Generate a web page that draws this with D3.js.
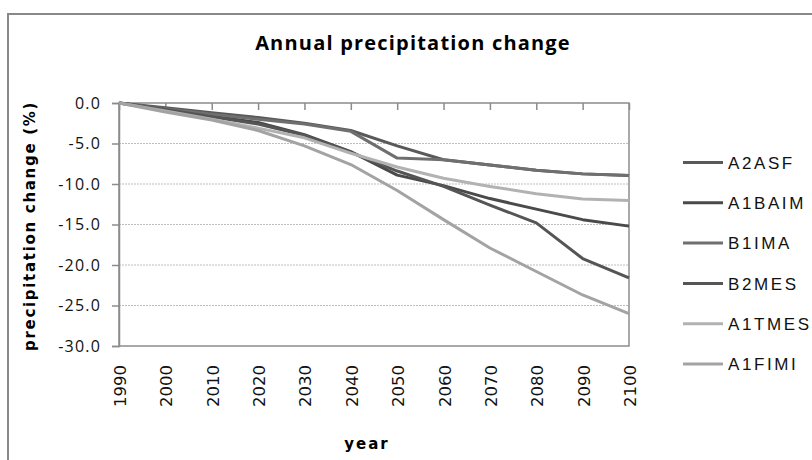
<!DOCTYPE html>
<html>
<head>
<meta charset="utf-8">
<script src="https://cdn.jsdelivr.net/npm/d3@7"></script>
<style>
  body { margin: 0; background: #fff; }
  svg { display: block; }
</style>
</head>
<body>
<div id="chart"></div>
<script>
// values
var years = ["1990", "2000", "2010", "2020", "2030", "2040", "2050", "2060", "2070", "2080", "2090", "2100"];
var seriesNames = ["A2ASF", "A1BAIM", "B1IMA", "B2MES", "A1TMES", "A1FIMI"];
var a2asf  = [0, -0.6, -1.2, -1.8, -2.5, -3.4, -5.3, -7.0, -7.65, -8.3, -8.75, -8.95];
var a1baim = [0, -0.8, -1.6, -2.4, -3.9, -6.0, -8.9, -10.2, -11.8, -13.1, -14.4, -15.2];
var b1ima  = [0, -0.7, -1.4, -2.0, -2.6, -3.5, -6.8, -7.0, -7.65, -8.3, -8.75, -8.95];
var b2mes  = [0, -0.8, -1.7, -2.6, -4.0, -6.1, -8.4, -10.3, -12.6, -14.8, -19.2, -21.6];
var a1tmes = [0, -1.0, -2.0, -3.1, -4.3, -6.2, -7.9, -9.3, -10.3, -11.2, -11.85, -12.05];
var a1fimi = [0, -1.1, -2.1, -3.4, -5.3, -7.6, -10.8, -14.4, -17.9, -20.8, -23.7, -26.0];
var yTicks = [0, -5, -10, -15, -20, -25, -30];

var seriesValues = [a2asf, a1baim, b1ima, b2mes, a1tmes, a1fimi];
var colors = ["#595959", "#4a4a4a", "#6f6f6f", "#555555", "#b2b2b2", "#a3a3a3"];

var width = 812, height = 460;
var plot = { left: 119, right: 629, top: 103, bottom: 346 };

var svg = d3.select("#chart")
    .append("svg")
    .attr("width", width)
    .attr("height", height);

// chart area frame (runs off the right and bottom edges, like the screenshot)
svg.append("rect")
    .attr("x", 8)
    .attr("y", 14)
    .attr("width", 900)
    .attr("height", 600)
    .style("fill", "#fff")
    .style("stroke", "#888")
    .style("stroke-width", 2);

var xScale = d3.scalePoint()
    .domain(years)
    .range([plot.left, plot.right]);

var yScale = d3.scaleLinear()
    .domain([-30, 0])
    .range([plot.bottom, plot.top]);

// gridlines
svg.append("g")
    .selectAll("line")
    .data(yTicks.filter(function (d) { return d !== 0 && d !== -30; }))
    .enter()
    .append("line")
    .attr("x1", plot.left)
    .attr("x2", plot.right)
    .attr("y1", function (d) { return yScale(d); })
    .attr("y2", function (d) { return yScale(d); })
    .style("stroke", "#bdbdbd")
    .style("stroke-width", 1)
    .style("stroke-dasharray", "2,1");

// plot border
svg.append("rect")
    .attr("x", plot.left)
    .attr("y", plot.top)
    .attr("width", plot.right - plot.left)
    .attr("height", plot.bottom - plot.top)
    .style("fill", "none")
    .style("stroke", "#8c8c8c")
    .style("stroke-width", 1.5);

// y axis
var yAxis = svg.append("g")
    .attr("transform", "translate(" + plot.left + ",0)")
    .call(d3.axisLeft(yScale)
        .tickValues(yTicks)
        .tickSize(7)
        .tickPadding(11)
        .tickFormat(d3.format(".1f")));

yAxis.select(".domain").style("stroke", "#8c8c8c").style("stroke-width", 1.5);
yAxis.selectAll(".tick line").style("stroke", "#8c8c8c").style("stroke-width", 1.5);
yAxis.selectAll("text")
    .style("font-family", "'Open Sans', sans-serif")
    .style("font-size", "16px")
    .style("letter-spacing", "1.2px")
    .style("fill", "#111")
    .text(function (d) { return d === 0 ? "0.0" : d3.format(".1f")(d).replace("\u2212", "-"); });

// x axis: tick marks hang from the zero line
var xTop = svg.append("g")
    .attr("transform", "translate(0," + yScale(0) + ")")
    .call(d3.axisBottom(xScale).tickSize(7).tickFormat(""));
xTop.select(".domain").remove();
xTop.selectAll(".tick line").style("stroke", "#8c8c8c").style("stroke-width", 1.5);

// x labels at the bottom, rotated
svg.append("g")
    .selectAll("text")
    .data(years)
    .enter()
    .append("text")
    .attr("transform", function (d) {
        return "translate(" + (xScale(d) + 7) + ",365) rotate(-90)";
    })
    .style("text-anchor", "end")
    .style("font-family", "'DejaVu Sans', sans-serif")
    .style("font-size", "16.5px")
    .style("fill", "#111")
    .text(function (d) { return d; });

// lines
var line = d3.line()
    .x(function (d, i) { return xScale(years[i]); })
    .y(function (d) { return yScale(d); });

svg.append("g")
    .selectAll("path")
    .data(seriesValues)
    .enter()
    .append("path")
    .attr("d", line)
    .style("fill", "none")
    .style("stroke", function (d, i) { return colors[i]; })
    .style("stroke-width", 3)
    .style("stroke-linejoin", "round");

// legend
var legend = svg.append("g")
    .selectAll("g")
    .data(seriesNames)
    .enter()
    .append("g")
    .attr("transform", function (d, i) { return "translate(683," + (162.5 + i * 40.3) + ")"; });

legend.append("line")
    .attr("x1", 0)
    .attr("x2", 40)
    .style("stroke", function (d, i) { return colors[i]; })
    .style("stroke-width", 3);

legend.append("text")
    .attr("x", 45)
    .attr("dy", "0.36em")
    .style("font-family", "'Liberation Sans', sans-serif")
    .style("font-size", "17px")
    .style("letter-spacing", "2.6px")
    .style("fill", "#111")
    .text(function (d) { return d; });

// title and axis titles
svg.append("text")
    .attr("x", 413)
    .attr("y", 50)
    .style("text-anchor", "middle")
    .style("font-family", "'Open Sans', sans-serif")
    .style("font-weight", "bold")
    .style("font-size", "20px")
    .style("letter-spacing", "1.2px")
    .text("Annual precipitation change");

svg.append("text")
    .attr("transform", "translate(35,226) rotate(-90)")
    .style("text-anchor", "middle")
    .style("font-family", "'DejaVu Sans', sans-serif")
    .style("font-weight", "bold")
    .style("font-size", "15px")
    .style("letter-spacing", "1.7px")
    .text("precipitation change (%)");

svg.append("text")
    .attr("x", 367)
    .attr("y", 449)
    .style("text-anchor", "middle")
    .style("font-family", "'DejaVu Sans', sans-serif")
    .style("font-weight", "bold")
    .style("font-size", "15px")
    .style("letter-spacing", "2px")
    .text("year");
</script>
</body>
</html>
